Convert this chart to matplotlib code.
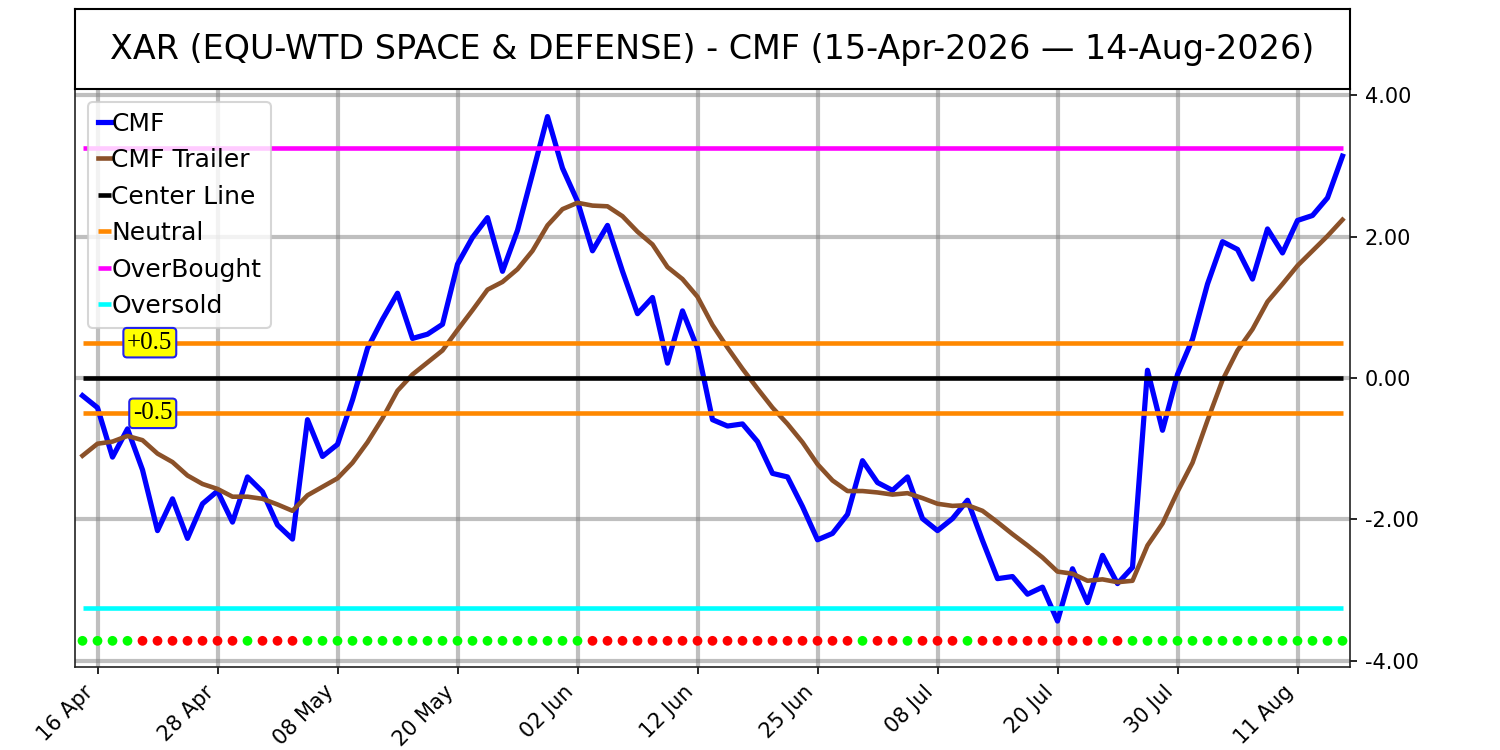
import numpy as np
import pandas as pd
import matplotlib
matplotlib.use("Agg")
import matplotlib.pyplot as plt


# ---------------------------------------------------------------------
# Data
# ---------------------------------------------------------------------

TICKER = "XAR (EQU-WTD SPACE & DEFENSE)"
START, END = "2026-04-15", "2026-08-14"
HOLIDAYS = ["2026-05-25", "2026-06-19", "2026-07-03"]

cmf = [
    -0.25, -0.42, -1.12, -0.72, -1.30, -2.16, -1.71, -2.27, -1.78, -1.60,
    -2.04, -1.40, -1.61, -2.08, -2.28, -0.59, -1.11, -0.94, -0.31, 0.42,
    0.83, 1.20, 0.56, 0.62, 0.76, 1.61, 1.99, 2.27, 1.51, 2.09,
    2.89, 3.70, 2.97, 2.50, 1.80, 2.16, 1.51, 0.91, 1.14, 0.21,
    0.95, 0.42, -0.59, -0.68, -0.65, -0.90, -1.35, -1.40, -1.82, -2.29,
    -2.20, -1.93, -1.17, -1.48, -1.59, -1.40, -1.99, -2.16, -1.99, -1.73,
    -2.30, -2.84, -2.81, -3.06, -2.96, -3.44, -2.70, -3.18, -2.51, -2.91,
    -2.68, 0.11, -0.74, 0.05, 0.55, 1.33, 1.93, 1.82, 1.40, 2.11,
    1.77, 2.23, 2.30, 2.55, 3.14,
]

cmf_trailer = [
    -1.10, -0.93, -0.90, -0.82, -0.88, -1.07, -1.19, -1.38, -1.50, -1.57,
    -1.68, -1.68, -1.71, -1.79, -1.88, -1.66, -1.54, -1.42, -1.20, -0.91,
    -0.57, -0.18, 0.05, 0.22, 0.39, 0.68, 0.96, 1.25, 1.36, 1.54,
    1.80, 2.16, 2.39, 2.48, 2.44, 2.43, 2.29, 2.07, 1.89, 1.57,
    1.40, 1.15, 0.75, 0.43, 0.13, -0.15, -0.42, -0.65, -0.91, -1.22,
    -1.45, -1.60, -1.60, -1.62, -1.65, -1.63, -1.70, -1.78, -1.81, -1.80,
    -1.88, -2.04, -2.21, -2.37, -2.54, -2.74, -2.77, -2.87, -2.85, -2.89,
    -2.87, -2.37, -2.06, -1.61, -1.20, -0.60, -0.03, 0.39, 0.69, 1.08,
    1.33, 1.59, 1.80, 2.01, 2.24,
]

# G = CMF above trailer, R = below (dot row at the bottom)
signal = (
    "GGGGRRRRRR" "RGRRRGGGGG" "GGGGGGGGGG" "GGGGRRRRRR" "RRRRRRRRRR"
    "RRGRRGRRRG" "RRRRRRRRGR" "GGGGGGGGGG" "GGGGG"
)

CENTER = 0.0
NEUTRAL = 0.5
OVERBOUGHT = 3.25
OVERSOLD = -3.25
DOT_LEVEL = -3.72


# ---------------------------------------------------------------------
# Plot
# ---------------------------------------------------------------------

def trading_days() -> pd.DatetimeIndex:
    days = pd.bdate_range(START, END)
    return days[~days.isin(pd.to_datetime(HOLIDAYS))]


def main() -> None:
    dates = trading_days()
    n = len(cmf)
    x = np.arange(n)

    fig = plt.figure(figsize=(10, 5), dpi=150)
    ax = fig.add_axes([0.05, 0.1107, 0.85, 0.7706])
    ax_t = fig.add_axes([0.05, 0.8813, 0.85, 0.1067])

    # title box
    ax_t.set_xticks([])
    ax_t.set_yticks([])
    for s in ax_t.spines.values():
        s.set_linewidth(1.0)
    title = (f"{TICKER} - CMF ({dates[0]:%d-%b-%Y} \u2014 {dates[-1]:%d-%b-%Y})")
    ax_t.text(0.5, 0.5, title, ha="center", va="center", fontsize=16,
              transform=ax_t.transAxes)

    ax.plot(x, cmf, color="blue", lw=2.5, label="CMF")
    ax.plot(x, cmf_trailer, color="#8B5129", lw=2.2, label="CMF Trailer")
    ax.hlines(CENTER, 0, n - 1, color="black", lw=2.2, label="Center Line")
    ax.hlines([NEUTRAL, -NEUTRAL], 0, n - 1, color="#FF8800", lw=2.2, label="Neutral")
    ax.hlines(OVERBOUGHT, 0, n - 1, color="magenta", lw=2.2, label="OverBought")
    ax.hlines(OVERSOLD, 0, n - 1, color="cyan", lw=2.2, label="Oversold")

    dot_colors = ["#00FF00" if s == "G" else "#FF0000" for s in signal]
    ax.scatter(x, [DOT_LEVEL] * n, c=dot_colors, s=22, zorder=5, linewidths=0)

    box = dict(boxstyle="round,pad=0.15", fc="yellow", ec="#2222EE", lw=1.0)
    for lvl, txt in [(NEUTRAL, "+0.5"), (-NEUTRAL, "-0.5")]:
        ax.text(6, lvl, txt, ha="right", va="center", fontsize=12,
                family="Liberation Serif", bbox=box, zorder=6)

    ax.set_xlim(-0.5, n - 0.5)
    ax.set_ylim(-4.09, 4.09)

    tick_idx = list(range(1, n, 8))
    ax.set_xticks(tick_idx)
    ax.set_xticklabels([dates[i].strftime("%d %b") for i in tick_idx],
                       rotation=45, ha="right", fontsize=10)
    ax.set_yticks([-4, -2, 0, 2, 4])
    ax.set_yticklabels([f"{v:.2f}" for v in [-4, -2, 0, 2, 4]], fontsize=10)
    ax.yaxis.tick_right()

    ax.grid(True, color="gray", alpha=0.5, lw=2.0)
    ax.set_axisbelow(True)
    for s in ax.spines.values():
        s.set_color("#222222")

    ax.legend(loc="upper left", fontsize=12, handlelength=0.55,
              handletextpad=0.0, labelspacing=0.5, borderpad=0.4)

    fig.savefig("out.png", dpi=150)
    plt.close(fig)


if __name__ == "__main__":
    main()
